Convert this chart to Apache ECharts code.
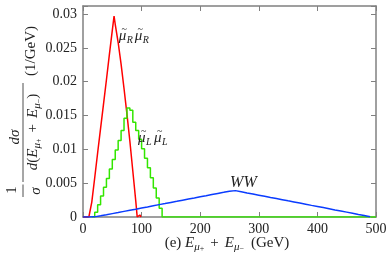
<!DOCTYPE html>
<html><head><meta charset="utf-8">
<script src="https://cdn.jsdelivr.net/npm/echarts@6/dist/echarts.min.js"></script>
<style>html,body{margin:0;padding:0;background:#fff}#c{width:390px;height:255px}</style>
</head><body><div id="c"></div>
<script>
// ---- data ----
const xTickLabels = ['0','100','200','300','400','500'];
const yTickLabels = ['0','0.005','0.01','0.015','0.02','0.025','0.03'];

// smuon_R pair (red), drawn as polyline
const redE = [0,10,12,15,20,25,30,35,40,45,50,53,55,60,65,70,75,80,85,90,92.5,95,97,99,100];
const redV = [0,0,0,0.0022,0.0058,0.0095,0.0131,0.0167,0.0203,0.0240,0.0276,0.0297,0.0285,0.0258,0.0226,0.0190,0.0152,0.0112,0.0068,0.0024,0,0,0.0003,0,0];

// smuon_L pair (green), 5 GeV histogram, left bin edges
const greenE = [15,20,25,30,35,40,45,50,55,60,65,70,75,80,85,90,95,100,105,110,115,120,125,130,135,500];
const greenV = [0,0.0007,0.0018,0.0031,0.0044,0.0057,0.0071,0.0085,0.0099,0.0113,0.0128,0.0146,0.0161,0.0158,0.0140,0.0128,0.0115,0.0101,0.0087,0.0073,0.0058,0.0043,0.0028,0.0013,0,0];

// WW (blue), 10 GeV histogram, left bin edges
const blueE = [0,10,20,30,40,50,60,70,80,90,100,110,120,130,140,150,160,170,180,190,200,210,220,230,240,250,260,270,280,290,300,310,320,330,340,350,360,370,380,390,400,410,420,430,440,450,460,470,480,490];
const blueV = [0,0.00002,0.00017,0.00033,0.0005,0.00066,0.00083,0.0010,0.00116,0.00133,0.00149,0.00166,0.00183,0.00199,0.00216,0.00232,0.00249,0.00266,0.00282,0.00299,0.00315,0.00332,0.00349,0.00365,0.00382,0.0039,0.00373,0.00356,0.0034,0.00323,0.00306,0.00289,0.00273,0.00256,0.00239,0.00223,0.00206,0.00189,0.00172,0.00156,0.00139,0.00122,0.00105,0.00089,0.00072,0.00055,0.00038,0.00022,0.00005,0];

// ---- chart ----
const SERIF = 'Liberation Serif';
const TXT = '#222';
const AX = '#808080';
const zip = (e, v) => e.map((x, i) => [x, v[i]]);

const chart = echarts.init(document.getElementById('c'), null, {renderer: 'canvas'});

const xBase = {
  type: 'value', min: 0, max: 500, interval: 100,
  axisLine: {show: true, onZero: false, lineStyle: {color: AX, width: 1.5}},
  axisTick: {show: true, inside: true, length: 5, lineStyle: {color: AX, width: 1}},
  splitLine: {show: false}
};
const yBase = {
  type: 'value', min: 0, max: 0.0312, interval: 0.005,
  axisLine: {show: true, onZero: false, lineStyle: {color: AX, width: 1.5}},
  axisTick: {show: true, inside: true, length: 5, lineStyle: {color: AX, width: 1}},
  splitLine: {show: false}
};

chart.setOption({
  animation: false,
  backgroundColor: '#fff',
  grid: {left: 83, right: 14, top: 6, bottom: 38, containLabel: false},
  xAxis: [
    Object.assign({}, xBase, {position: 'bottom',
      axisLabel: {show: true, margin: 5, color: TXT, fontFamily: SERIF, fontSize: 14,
        formatter: v => { const i = Math.round(v / 100); return Math.abs(v - i * 100) < 1e-6 ? xTickLabels[i] : ''; }}}),
    Object.assign({}, xBase, {position: 'top', axisLabel: {show: false}})
  ],
  yAxis: [
    Object.assign({}, yBase, {position: 'left',
      axisLabel: {show: true, margin: 6, color: TXT, fontFamily: SERIF, fontSize: 14,
        formatter: v => { const i = Math.round(v / 0.005); return Math.abs(v - i * 0.005) < 1e-9 ? (yTickLabels[i] || '') : ''; }}}),
    Object.assign({}, yBase, {position: 'right', axisLabel: {show: false}})
  ],
  series: [
    {type: 'line', data: zip(redE, redV), showSymbol: false, symbol: 'none',
      lineStyle: {color: '#ff0000', width: 1.5}, z: 3},
    {type: 'line', data: zip(greenE, greenV), step: 'end', showSymbol: false, symbol: 'none',
      lineStyle: {color: '#33e600', width: 1.5}, z: 4},
    {type: 'line', data: zip(blueE, blueV), step: 'end', showSymbol: false, symbol: 'none',
      lineStyle: {color: '#0a3cff', width: 1.5}, z: 5}
  ]
});

const px = (x, y) => chart.convertToPixel({xAxisIndex: 0, yAxisIndex: 0}, [x, y]);
const R90 = Math.PI / 2;
const T = (x, y, text, extra, rot) => ({type: 'text', x: x, y: y, rotation: rot || 0, z: 10,
  style: Object.assign({text: text, fill: TXT, fontFamily: SERIF, fontSize: 14, align: 'center', verticalAlign: 'middle'}, extra || {})});

// slepton pair label: μ̃_X μ̃_X built from glyphs
function smuLabel(p, sub) {
  const x = p[0], y = p[1];
  const it = {fontStyle: 'italic', fontSize: 15, align: 'left'};
  const sb = {fontStyle: 'italic', fontSize: 10, align: 'left'};
  const tl = {fontSize: 10, align: 'center'};
  return [
    T(x, y, 'μ', it), T(x + 5.5, y - 7, '~', tl), T(x + 8, y + 4, sub, sb),
    T(x + 16, y, 'μ', it), T(x + 21.5, y - 7, '~', tl), T(x + 24, y + 4, sub, sb)
  ];
}

const mathRich = {
  i: {fontFamily: SERIF, fontStyle: 'italic', fontSize: 15, lineHeight: 20, fill: TXT},
  s: {fontFamily: SERIF, fontStyle: 'italic', fontSize: 11, lineHeight: 10, verticalAlign: 'bottom', fill: TXT},
  p: {fontFamily: SERIF, fontSize: 8, lineHeight: 16, verticalAlign: 'bottom', fill: TXT},
  o: {fontFamily: SERIF, fontSize: 15, lineHeight: 20, padding: [0, 6, 0, 6], fill: TXT},
  g: {fontFamily: SERIF, fontSize: 15, lineHeight: 20, padding: [0, 0, 0, 7], fill: TXT}
};
const mathStyle = {rich: mathRich, lineHeight: 20, fontSize: 15};

chart.setOption({
  graphic: [].concat(
    smuLabel(px(61, 0.02675), 'R'),
    smuLabel(px(94, 0.01167), 'L'),
    [
      T(px(251, 0.00502)[0], px(251, 0.00502)[1], 'WW', {fontStyle: 'italic', fontSize: 16, align: 'left'}),
      // x-axis title
      T(227, 243, '(e) {i|E}{s|μ}{p|+}{o|+}{i|E}{s|μ}{p|−}{g|(GeV)}', mathStyle),
      // y-axis title (rotated, reads bottom to top)
      T(12, 190, '1', {fontSize: 15}, R90),
      T(36, 191, 'σ', {fontStyle: 'italic', fontSize: 15}, R90),
      {type: 'line', shape: {x1: 23, y1: 184.5, x2: 23, y2: 197}, style: {stroke: TXT, lineWidth: 0.8}},
      T(15, 137, 'dσ', {fontStyle: 'italic', fontSize: 15}, R90),
      {type: 'line', shape: {x1: 23, y1: 83, x2: 23, y2: 182}, style: {stroke: TXT, lineWidth: 0.8}},
      T(33, 132, '{i|d}({i|E}{s|μ}{p|+}{o|+}{i|E}{s|μ}{p|−})', mathStyle, R90),
      T(31, 51, '(1/GeV)', {fontSize: 15}, R90)
    ]
  )
});
</script>
</body></html>
